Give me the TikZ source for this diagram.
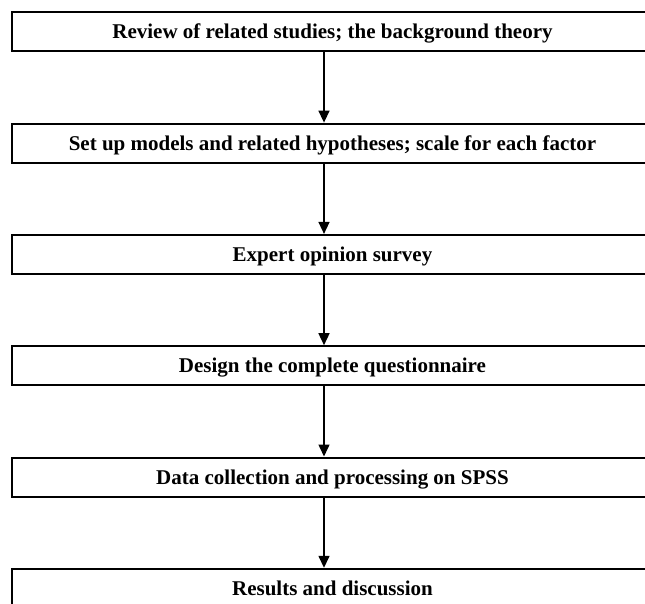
\documentclass[tikz,border=0pt]{standalone}
\usepackage{fontspec}
\setmainfont{Liberation Serif}
\usepackage{tikz}
\usetikzlibrary{arrows.meta, positioning}

\begin{document}
\begin{tikzpicture}[
    x=1pt, y=1pt,
    node distance=70.3pt,
    stage/.style={rectangle, draw, line width=2pt, minimum width=641pt, minimum height=39pt,
                  inner sep=0pt, text height=18pt, text depth=4pt,
                  font=\fontsize{21}{25}\selectfont\bfseries},
    arrow/.style={line width=1.5pt, -{Triangle[length=12pt,width=11pt]}}
]
\useasboundingbox (0,0) rectangle (645,-604);
\clip (0,0) rectangle (645,-604);

% research steps, top to bottom
\node[stage] (review) at (332.5,-31.8) {Review of related studies; the background theory};
\node[stage, below=of review] (models) {Set up models and related hypotheses; scale for each factor};
\node[stage, below=of models] (expert) {Expert opinion survey};
\node[stage, below=of expert] (design) {Design the complete questionnaire};
\node[stage, below=of design] (data) {Data collection and processing on SPSS};
\node[stage, below=of data] (results) {Results and discussion};

% arrows sit a little left of the centre line
\foreach \a/\b in {review/models, models/expert, expert/design, design/data, data/results}
  \draw[arrow] ([xshift=-8.5pt]\a.south) -- ([xshift=-8.5pt]\b.north);

\end{tikzpicture}
\end{document}
